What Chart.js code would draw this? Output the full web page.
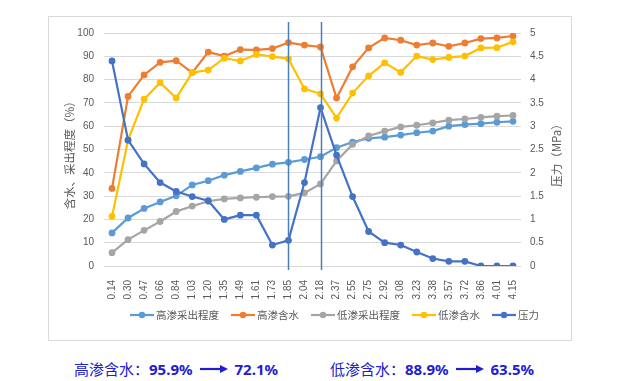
<!DOCTYPE html>
<html>
<head>
<meta charset="utf-8">
<script src="https://cdn.jsdelivr.net/npm/chart.js@4/dist/chart.umd.min.js"></script>
<style>
  body { margin: 0; width: 630px; height: 381px; background: #fff; position: relative; overflow: hidden;
         font-family: 'Noto Sans', 'Noto Sans CJK SC', sans-serif; }
  #frame { position: absolute; left: 48px; top: 16px; width: 522px; height: 323px; border: 1px solid #d9d9d9; }
  #frame canvas { position: absolute; left: 0; top: 0; }
  #legend { position: absolute; left: 130px; top: 307px; display: flex; align-items: center;
            font-size: 10.5px; color: #595959; font-family: 'Noto Sans CJK SC', sans-serif; }
  .item { display: flex; align-items: center; margin-right: 12px; }
  .item svg { margin-right: 2px; }
  .note { position: absolute; top: 358px; color: #2020d0; font-size: 15px; display: flex; align-items: center;
          font-family: 'Noto Sans CJK SC', sans-serif; }
  .note b { font-family: 'Noto Sans', sans-serif; font-weight: 700; }
  .note svg { margin: 0 7px; }
</style>
</head>
<body>
<div id="frame"><canvas id="c" width="522" height="323"></canvas></div>
<div id="legend"></div>
<div class="note" style="left:74px">高渗含水：<b>95.9%</b><svg width="28" height="10"><line x1="0" y1="5" x2="21" y2="5" stroke="#2020d0" stroke-width="2.2"/><polygon points="20,1 28,5 20,9" fill="#2020d0"/></svg><b>72.1%</b></div>
<div class="note" style="left:330px">低渗含水：<b>88.9%</b><svg width="28" height="10"><line x1="0" y1="5" x2="21" y2="5" stroke="#2020d0" stroke-width="2.2"/><polygon points="20,1 28,5 20,9" fill="#2020d0"/></svg><b>63.5%</b></div>
<script>
// categories (x axis labels)
const categories = ['0.14', '0.30', '0.47', '0.66', '0.84', '1.03', '1.20', '1.35', '1.49', '1.61', '1.73', '1.85', '2.04',
  '2.18', '2.37', '2.55', '2.75', '2.92', '3.08', '3.23', '3.38', '3.57', '3.72', '3.86', '4.01', '4.15'];

// series, left axis (%)
const hiRecovery = [14.2, 20.6, 24.7, 27.5, 30.1, 34.8, 36.6, 39.0, 40.6, 42.1, 43.7, 44.5, 45.7, 46.9, 50.8, 53.2, 54.8,
  55.3, 56.2, 57.2, 57.9, 60.0, 60.7, 61.1, 61.7, 62.1];
const hiWater = [33.3, 72.8, 82.0, 87.4, 88.1, 83.0, 91.8, 90.1, 92.9, 92.8, 93.3, 95.9, 94.8, 94.0, 72.1, 85.5, 93.6,
  97.9, 96.9, 94.8, 95.7, 94.3, 95.7, 97.6, 97.9, 98.7];
const loRecovery = [5.7, 11.3, 15.3, 19.1, 23.4, 25.7, 27.8, 28.8, 29.2, 29.5, 29.8, 29.9, 31.4, 35.2, 45.1, 52.2, 55.8,
  57.9, 59.7, 60.4, 61.4, 62.6, 63.1, 63.8, 64.3, 64.6];
const loWater = [21.3, 54.0, 71.6, 78.7, 72.1, 83.0, 84.1, 89.2, 88.0, 90.8, 89.9, 88.9, 76.0, 73.9, 63.5, 74.2, 81.6,
  87.2, 83.1, 90.1, 88.6, 89.5, 90.1, 93.6, 93.7, 96.2];
// right axis (MPa)
const pressure = [4.40, 2.70, 2.19, 1.79, 1.60, 1.49, 1.40, 1.00, 1.09, 1.09, 0.45, 0.55, 1.79, 3.40, 2.38, 1.49, 0.74,
  0.50, 0.45, 0.30, 0.16, 0.10, 0.10, 0, 0, 0];

// categories where the vertical marker lines sit
const markerCats = ['1.85', '2.18'];

const seriesNames = ['高渗采出程度', '高渗含水', '低渗采出程度', '低渗含水', '压力'];
const seriesColors = ['#5b9bd5', '#ed7d31', '#a5a5a5', '#ffc000', '#4472c4'];
const seriesData = [hiRecovery, hiWater, loRecovery, loWater, pressure];

const tickFont = { family: "'Liberation Sans', sans-serif", size: 10 };
const textColor = '#595959';

// html legend, excel style (line with marker)
const legendEl = document.getElementById('legend');
seriesNames.forEach((name, i) => {
  const c = seriesColors[i];
  legendEl.innerHTML += `<div class="item"><svg width="24" height="8"><line x1="0" y1="4" x2="24" y2="4" stroke="${c}" stroke-width="2.2"/><circle cx="12" cy="4" r="3.2" fill="${c}"/></svg>${name}</div>`;
});

const overlay = {
  id: 'overlay',
  afterDatasetsDraw(chart) {
    const { ctx, chartArea, scales } = chart;
    ctx.save();
    ctx.strokeStyle = '#4a7ebb';
    ctx.lineWidth = 1.5;
    markerCats.forEach(cat => {
      const x = Math.round(scales.x.getPixelForValue(categories.indexOf(cat))) + 0.5;
      ctx.beginPath();
      ctx.moveTo(x, chartArea.top - 11);
      ctx.lineTo(x, chartArea.bottom + 4);
      ctx.stroke();
    });
    // axis titles, both read bottom to top
    const midY = (chartArea.top + chartArea.bottom) / 2 + 3;
    ctx.fillStyle = textColor;
    ctx.font = "11.5px 'Noto Sans CJK SC', sans-serif";
    ctx.textAlign = 'center';
    ctx.textBaseline = 'middle';
    [[21, '含水、采出程度（%）'], [508, '压力（MPa）']].forEach(([x, t]) => {
      ctx.save();
      ctx.translate(x, midY);
      ctx.rotate(-Math.PI / 2);
      ctx.fillText(t, 0, 0);
      ctx.restore();
    });
    ctx.restore();
  }
};

new Chart(document.getElementById('c'), {
  type: 'line',
  data: {
    labels: categories,
    datasets: seriesData.map((d, i) => ({
      label: seriesNames[i],
      data: d,
      yAxisID: i === 4 ? 'y1' : 'y',
      borderColor: seriesColors[i],
      backgroundColor: seriesColors[i],
      borderWidth: 2.2,
      pointRadius: 3.4,
      pointBorderWidth: 0,
      tension: 0,
      order: 4 - i
    }))
  },
  options: {
    responsive: false,
    animation: false,
    layout: { padding: { top: 14, left: 0, right: 0, bottom: 0 } },
    plugins: { legend: { display: false }, tooltip: { enabled: false } },
    scales: {
      x: {
        offset: true,
        grid: { display: false },
        border: { display: false },
        ticks: { color: textColor, font: tickFont, maxRotation: 90, minRotation: 90, autoSkip: false, padding: 6 },
        afterFit: s => { s.height = 74; }
      },
      y: {
        position: 'left',
        min: 0, max: 100,
        ticks: { stepSize: 10, color: textColor, font: tickFont, padding: 10 },
        grid: { color: '#d9d9d9', drawTicks: false },
        border: { display: false },
        afterFit: s => { s.width = 55; }
      },
      y1: {
        position: 'right',
        min: 0, max: 5,
        ticks: { stepSize: 0.5, color: textColor, font: tickFont, padding: 9, callback: v => String(+v.toFixed(1)) },
        grid: { display: false, drawTicks: false },
        border: { display: false },
        afterFit: s => { s.width = 50; }
      }
    }
  },
  plugins: [overlay]
});
</script>
</body>
</html>
